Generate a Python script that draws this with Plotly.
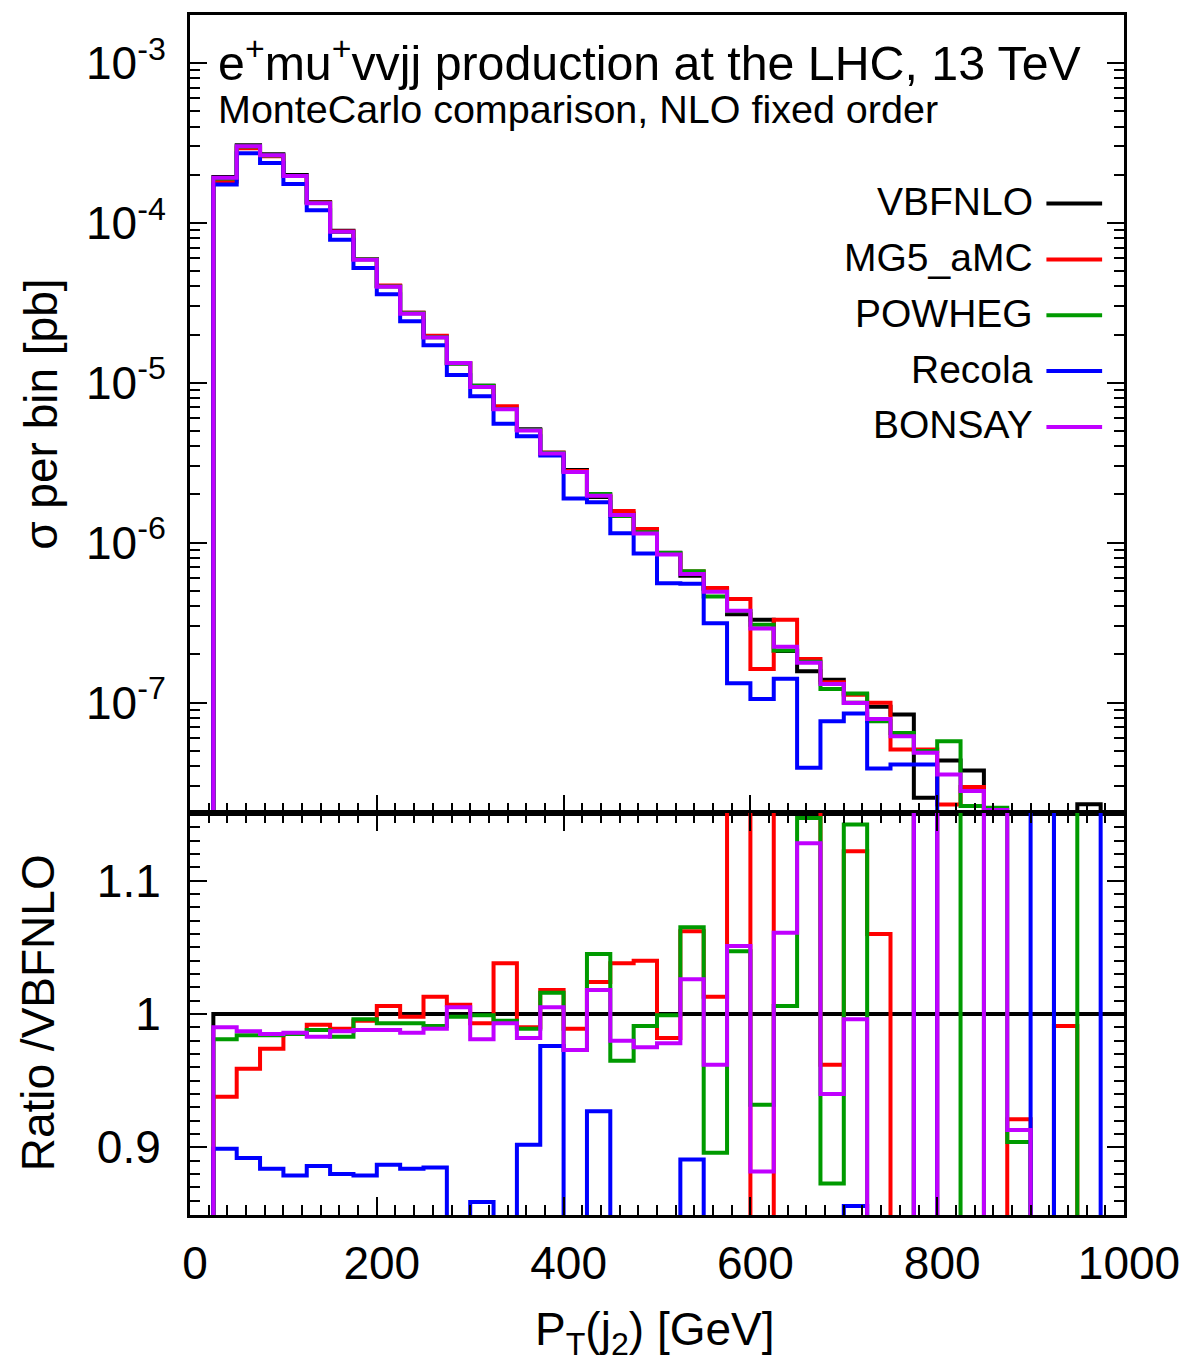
import numpy as np
import plotly.graph_objects as go

# ---------------- data (bins of 25 GeV from 0 to 1000) ----------------
bin_edges = list(range(0, 1001, 25))

vbfnlo = [0, 1.93e-4, 3.05e-4, 2.68e-4, 1.99e-4, 1.35e-4, 8.91e-5, 5.94e-5, 4.03e-5, 2.74e-5,
          1.94e-5, 1.32e-5, 9.57e-6, 6.87e-6, 5.12e-6, 3.59e-6, 2.84e-6, 1.93e-6, 1.52e-6, 1.17e-6,
          8.63e-7, 6.21e-7, 5.13e-7, 3.56e-7, 3.29e-7, 2.10e-7, 1.57e-7, 1.39e-7, 9.96e-8, 9.40e-8,
          8.40e-8, 2.54e-8, 4.34e-8, 3.76e-8, 8.0e-9, 1.2e-8, 3.0e-9, 6.0e-9, 2.31e-8, 2.0e-9]

ratio_mg5 = [0, 0.938, 0.959, 0.974, 0.985, 0.992, 0.989, 0.995, 1.006, 0.998,
             1.013, 1.007, 0.993, 1.038, 0.990, 1.018, 0.989, 1.024, 1.038, 1.040,
             0.982, 1.062, 1.013, 1.248, 0.492, 1.566, 1.193, 0.962, 1.122, 1.060,
             0.605, 2.00, 0.531, 0.787, 0.5, 0.921, 0.5, 0.991, 0.5, 0.5]

ratio_powheg = [0, 0.981, 0.984, 0.984, 0.985, 0.988, 0.983, 0.996, 0.993, 0.993,
                0.991, 0.998, 0.999, 0.995, 0.989, 1.016, 0.973, 1.045, 0.965, 0.991,
                0.999, 1.065, 0.896, 1.047, 0.932, 1.006, 1.147, 0.873, 1.142, 0.812,
                0.768, 1.955, 1.32, 0.599, 2.75, 0.904, 0.5, 2.0, 0.5, 0.5]

ratio_recola = [0, 0.899, 0.892, 0.884, 0.879, 0.886, 0.880, 0.879, 0.887, 0.884,
                0.885, 0.845, 0.859, 0.807, 0.902, 0.976, 0.665, 0.927, 0.752, 0.731,
                0.645, 0.891, 0.610, 0.371, 0.320, 0.671, 0.249, 0.549, 0.856, 0.412,
                0.488, 1.615, 0.3, 0.3, 0.3, 0.3, 3.0, 0.3, 0.3, 3.0]

ratio_bonsay = [0, 0.990, 0.987, 0.985, 0.986, 0.983, 0.987, 0.988, 0.988, 0.986,
                0.989, 1.005, 0.981, 0.993, 0.982, 1.005, 0.973, 1.018, 0.980, 0.975,
                0.978, 1.026, 0.962, 1.051, 0.882, 1.061, 1.128, 0.940, 0.996, 0.84,
                0.732, 1.909, 0.818, 0.743, 2.66, 0.913, 0.5, 0.5, 0.5, 0.5]

series_names = ["VBFNLO", "MG5_aMC", "POWHEG", "Recola", "BONSAY"]
series_colors = ["#000000", "#ff0000", "#009a00", "#0000ff", "#c000ff"]

top_tick_vals = [1e-7, 1e-6, 1e-5, 1e-4, 1e-3]
top_tick_text = ["10<sup>-7</sup>", "10<sup>-6</sup>", "10<sup>-5</sup>", "10<sup>-4</sup>", "10<sup>-3</sup>"]
ratio_tick_vals = [0.9, 1.0, 1.1]
ratio_tick_text = ["0.9", "1", "1.1"]
x_tick_vals = [0, 200, 400, 600, 800, 1000]
x_tick_text = ["0", "200", "400", "600", "800", "1000"]

title_text = "e<sup>+</sup>mu<sup>+</sup>vvjj production at the LHC, 13 TeV"
subtitle_text = "MonteCarlo comparison, NLO fixed order"

# ---------------- derived ----------------
vb = np.array(vbfnlo, dtype=float)
ratios = [np.where(vb > 0, 1.0, 0.0)] + [np.array(r, dtype=float) for r in
                                          (ratio_mg5, ratio_powheg, ratio_recola, ratio_bonsay)]
sigmas = [vb * r for r in ratios]

W, H = 1192, 1362
PL, PR, PT, PB = 190, 1129, 12, 1215
SPLIT = 812
frac = (PB - SPLIT) / (PB - PT)

def xp(px):
    return (px - PL) / (PR - PL)

def yp(py):
    return (PB - py) / (PB - PT)

def step(vals):
    v = list(vals)
    return bin_edges, v + [v[-1]]

FONT = "Liberation Sans, Arial, Helvetica, sans-serif"
fig = go.Figure()

# top panel
for name, col, s in zip(series_names, series_colors, sigmas):
    xs, ys = step(np.where(s > 0, s, 1e-12))
    fig.add_trace(go.Scatter(x=xs, y=ys, mode="lines", line=dict(color=col, width=4, shape="hv"),
                             name=name, showlegend=False, xaxis="x", yaxis="y"))

# ratio panel
for name, col, r in zip(series_names, series_colors, ratios):
    xs, ys = step(r)
    fig.add_trace(go.Scatter(x=xs, y=ys, mode="lines", line=dict(color=col, width=4, shape="hv"),
                             showlegend=False, xaxis="x2", yaxis="y2"))

axis_common = dict(showline=True, linewidth=3, linecolor="black",
                   ticks="inside", tickwidth=2, tickcolor="black", showgrid=False, zeroline=False,
                   tickfont=dict(family=FONT, size=46, color="black"))

minor_log = [k * 10.0 ** n for n in range(-8, -2) for k in range(2, 10)]

fig.update_layout(
    width=W, height=H,
    margin=dict(l=PL, r=W - PR, t=PT, b=H - PB),
    paper_bgcolor="white", plot_bgcolor="white",
    font=dict(family=FONT, color="black"),
    xaxis=dict(domain=[0, 1], anchor="y", range=[0, 1000], tickvals=x_tick_vals,
               showticklabels=False, ticklen=18, mirror=True,
               minor=dict(ticks="inside", ticklen=10, dtick=20, tick0=0, tickwidth=2, tickcolor="black"),
               **axis_common),
    yaxis=dict(domain=[frac, 1], anchor="x", type="log", range=[-7.691, -2.7006],
               tickvals=top_tick_vals, ticktext=top_tick_text, ticklen=17, mirror="ticks",
               ticklabelstandoff=12,
               minor=dict(ticks="inside", ticklen=10, tickvals=minor_log, tickwidth=2, tickcolor="black"),
               **axis_common),
    xaxis2=dict(domain=[0, 1], anchor="y2", range=[0, 1000], tickvals=x_tick_vals,
                ticktext=x_tick_text, ticklen=18, ticklabelstandoff=6, ticklabelshift=5,
                mirror="ticks",
                minor=dict(ticks="inside", ticklen=10, dtick=20, tick0=0, tickwidth=2, tickcolor="black"),
                **axis_common),
    yaxis2=dict(domain=[0, frac], anchor="x2", range=[0.8493, 1.1507],
                tickvals=ratio_tick_vals, ticktext=ratio_tick_text, ticklen=17, mirror="ticks",
                ticklabelstandoff=17,
                minor=dict(ticks="inside", ticklen=10, dtick=0.01, tick0=0, tickwidth=2, tickcolor="black"),
                **axis_common),
)

ann = []
ann.append(dict(text=title_text, x=xp(216), y=yp(57), xref="paper", yref="paper",
                xanchor="left", yanchor="middle", showarrow=False,
                font=dict(family=FONT, size=48.3, color="black")))
ann.append(dict(text=subtitle_text, x=xp(216), y=yp(106), xref="paper", yref="paper",
                xanchor="left", yanchor="middle", showarrow=False,
                font=dict(family=FONT, size=39.5, color="black")))
legend_y = [199, 255, 311, 367, 423]
shapes = []
for name, col, ly in zip(series_names, series_colors, legend_y):
    ann.append(dict(text=name, x=xp(1040), y=yp(ly), xref="paper", yref="paper",
                    xanchor="right", yanchor="middle", showarrow=False,
                    font=dict(family=FONT, size=39, color="black")))
    shapes.append(dict(type="line", xref="paper", yref="paper", x0=xp(1051), x1=xp(1107),
                       y0=yp(ly + 2), y1=yp(ly + 2), line=dict(color=col, width=4)))
ann.append(dict(text="P<sub>T</sub>(j<sub>2</sub>) [GeV]", x=xp(657), y=yp(1333), xref="paper", yref="paper",
                xanchor="center", yanchor="middle", showarrow=False,
                font=dict(family=FONT, size=46, color="black")))
ann.append(dict(text="σ per bin [pb]", x=xp(40), y=yp(412), xref="paper", yref="paper",
                xanchor="center", yanchor="middle", showarrow=False, textangle=-90,
                font=dict(family=FONT, size=46, color="black")))
ann.append(dict(text="Ratio /VBFNLO", x=xp(37), y=yp(1012), xref="paper", yref="paper",
                xanchor="center", yanchor="middle", showarrow=False, textangle=-90,
                font=dict(family=FONT, size=46, color="black")))
fig.update_layout(annotations=ann, shapes=shapes)

fig.write_html("out.html", config={"displayModeBar": False},
               post_script="document.body.style.margin='0';document.body.style.padding='0';"
                           "document.documentElement.style.overflow='hidden';")
